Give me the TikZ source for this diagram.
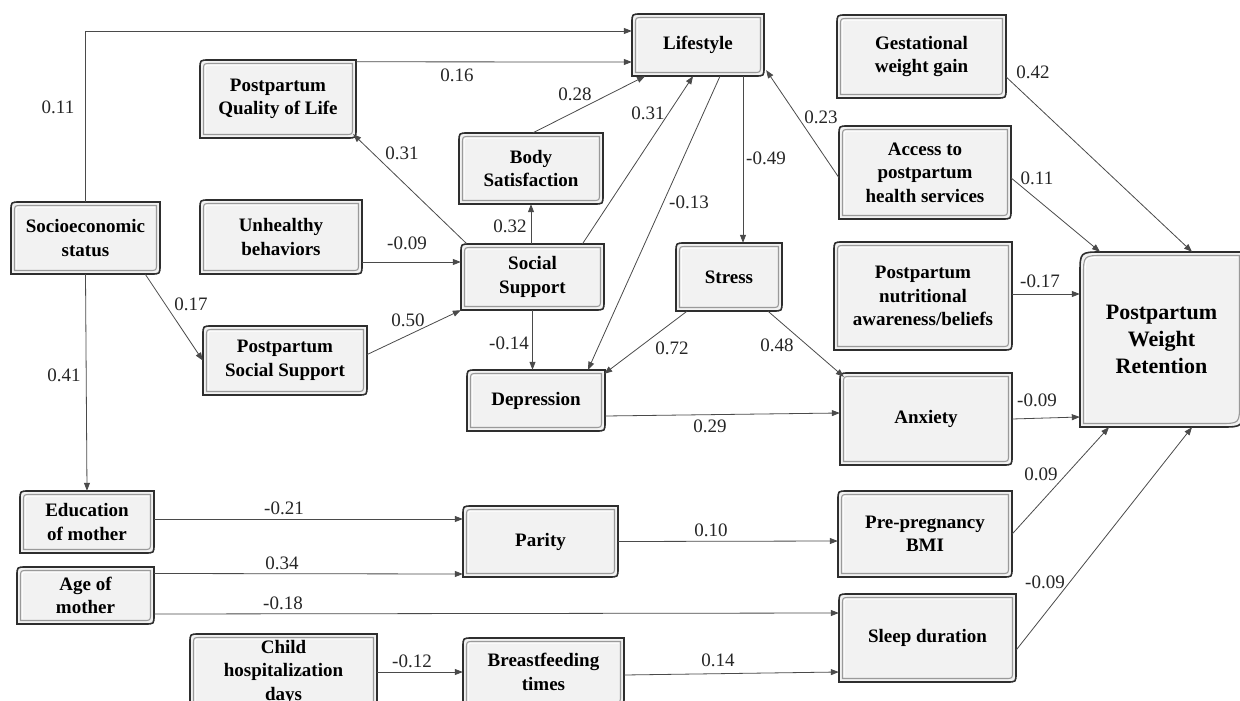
\documentclass[tikz,border=0pt]{standalone}
\usepackage{fontspec}
\setmainfont{LiberationSerif}[Extension=.ttf, UprightFont=*-Regular, BoldFont=*-Bold, ItalicFont=*-Italic, BoldItalicFont=*-BoldItalic]
\usetikzlibrary{arrows.meta}
\definecolor{boxfill}{HTML}{F2F2F2}
\definecolor{boxedge}{HTML}{2E2E2E}
\definecolor{bevel}{HTML}{9A9A9A}
\definecolor{conncol}{HTML}{4A4A4A}
\tikzset{
  boxtext/.style={inner sep=0pt, align=center, font=\rmfamily\bfseries\fontsize{19}{23.5}\selectfont, text=black},
  bigtext/.style={font=\rmfamily\bfseries\fontsize{22}{27}\selectfont},
  lbl/.style={font=\rmfamily\fontsize{19}{22}\selectfont, inner sep=0pt, text=black!85},
  conn/.style={draw=conncol, line width=0.8pt, -{Triangle[length=8pt,width=6pt]}},
  outerline/.style={draw=boxedge, line width=1.6pt, fill=boxfill},
  innerline/.style={draw=bevel, line width=1.1pt},
  hiline/.style={draw=white, line width=0.9pt},
}
% #1 node options, #2 name, #3 x1, #4 y1, #5 x2, #6 y2, #7 radius, #8 text
\newcommand\pbox[8][]{%
  \draw[outerline] (#3,#6) -- (#3,#4+#7) .. controls (#3,#4) .. (#3+#7,#4) -- (#5,#4) -- (#5,#6-#7) .. controls (#5,#6) .. (#5-#7,#6) -- cycle;
  \draw[innerline] (#3+3.5,#6-3.5) -- (#3+3.5,#4+1.5+#7) .. controls (#3+3.5,#4+3.5) .. (#3+1.5+#7,#4+3.5) -- (#5-3.5,#4+3.5) -- (#5-3.5,#6-1.5-#7) .. controls (#5-3.5,#6-3.5) .. (#5-1.5-#7,#6-3.5) -- cycle;
  \draw[hiline] (#3+5.2,#6-5.2) -- (#3+5.2,#4+1+#7) .. controls (#3+5.2,#4+5.2) .. (#3+1+#7,#4+5.2) -- (#5-5.2,#4+5.2);
  \node[boxtext, minimum width={(#5-#3)*1pt}, minimum height={(#6-#4)*1pt}, #1] (#2) at ({(#3+#5)/2},{(#4+#6)/2}) {#8};
}
\begin{document}
\begin{tikzpicture}[x=1pt,y=-1pt]
\useasboundingbox (0,0) rectangle (1240,701);
\clip (0,0) rectangle (1240,701);
\fill[white] (0,0) rectangle (1240,701);

\pbox{life}{632}{14}{764}{76}{9}{Lifestyle}
\pbox{gest}{837}{15}{1006}{98}{9}{Gestational\\weight gain}
\pbox{access}{839}{126}{1011}{219}{9}{Access to\\postpartum\\health services}
\pbox{qol}{200}{60}{356}{138}{9}{Postpartum\\Quality of Life}
\pbox{soc}{11}{202}{160}{274}{9}{Socioeconomic\\status}
\pbox{unh}{200}{200}{362}{274}{9}{Unhealthy\\behaviors}
\pbox{body}{459}{133}{603}{204}{9}{Body\\Satisfaction}
\pbox{ss}{461}{244}{604}{310}{9}{Social\\Support}
\pbox{stress}{676}{243}{782}{311}{9}{Stress}
\pbox{dep}{467}{370}{605}{431}{9}{Depression}
\pbox{pss}{203}{326}{367}{395}{9}{Postpartum\\Social Support}
\pbox{nutr}{834}{242}{1012}{350}{9}{Postpartum\\nutritional\\awareness/beliefs}
\pbox[bigtext]{pwr}{1080}{252}{1243}{427}{22}{Postpartum\\Weight\\Retention}
\pbox{anx}{840}{373}{1012}{465}{9}{Anxiety}
\pbox{edu}{20}{491}{154}{553}{9}{Education\\of mother}
\pbox{age}{17}{567}{154}{624}{9}{Age of\\mother}
\pbox{child}{190}{634}{377}{710}{9}{Child\\hospitalization\\days}
\pbox{parity}{463}{506}{618}{577}{9}{Parity}
\pbox{bf}{463}{638}{624}{706}{9}{Breastfeeding\\times}
\pbox{bmi}{838}{491}{1012}{577}{9}{Pre-pregnancy\\BMI}
\pbox{sleep}{839}{594}{1016}{682}{9}{Sleep duration}

% connectors
\draw[conn] (soc.north) |- ([yshift=14pt]life.west);
\draw[conn] ([yshift=-2pt]qol.north east) -- ([yshift=-17pt]life.west);
\draw[conn] ([xshift=2pt]body.north) -- ([xshift=-53pt]life.south);
\draw[conn] ([xshift=50pt]ss.north) -- ([xshift=-5pt]life.south);
\draw[conn] ([xshift=22pt]life.south) -- ([xshift=52pt]dep.north);
\draw[conn] ([xshift=45pt]life.south) -- ([xshift=14pt]stress.north);
\draw[conn] ([yshift=-5pt]access.west) -- ([xshift=2pt,yshift=6pt]life.south east);
\draw[conn] ([xshift=6pt]ss.north west) -- ([xshift=-3pt,yshift=4pt]qol.south east);
\draw[conn] (ss.north -| body.south) -- (body.south);
\draw[conn] ([yshift=-25pt]unh.east) -- ([yshift=15pt]ss.west);
\draw[conn] ([yshift=6pt]pss.east) -- (ss.south west);
\draw[conn] ([xshift=-15pt]soc.south east) -- (pss.west);
\draw[conn] (soc.south) -- (edu.north);
\draw[conn] (ss.south) -- (ss.south |- dep.north);
\draw[conn] ([xshift=-42pt]stress.south) -- ([xshift=-1pt,yshift=-4pt]dep.north east);
\draw[conn] ([xshift=39pt]stress.south) -- ([xshift=4pt,yshift=-4pt]anx.north west);
\draw[conn] ([yshift=-15.5pt]dep.east) -- ([yshift=6pt]anx.west);
\draw[conn] ([yshift=-20.5pt]gest.east) -- ([xshift=30.5pt]pwr.north);
\draw[conn] ([yshift=-5.5pt]access.east) -- ([xshift=-61.5pt]pwr.north);
\draw[conn] ([yshift=2pt]nutr.east) -- ([yshift=45.5pt]pwr.west);
\draw[conn] (anx.east) -- ([yshift=-77.5pt]pwr.west);
\draw[conn] (bmi.east) -- ([xshift=-52.5pt]pwr.south);
\draw[conn] ([yshift=-12pt]sleep.east) -- ([xshift=30.5pt]pwr.south);
\draw[conn] ([yshift=3pt]edu.east) -- ([yshift=22.5pt]parity.west);
\draw[conn] ([yshift=22pt]age.east) -- ([yshift=-32.5pt]parity.west);
\draw[conn] ([yshift=-18.5pt]age.east) -- ([yshift=25pt]sleep.west);
\draw[conn] (parity.east) -- ([yshift=-7pt]bmi.west);
\draw[conn] (child.east) -- (bf.west);
\draw[conn] ([yshift=-3pt]bf.east) -- ([yshift=-34pt]sleep.west);

% labels
\node[lbl] (l01) at (58,107) {0.11};
\node[lbl] (l02) at (457,75) {0.16};
\node[lbl] (l03) at (575,94) {0.28};
\node[lbl] (l04) at (648,113) {0.31};
\node[lbl] (l05) at (689,202) {-0.13};
\node[lbl] (l06) at (766,158) {-0.49};
\node[lbl] (l07) at (821,117) {0.23};
\node[lbl] (l08) at (402,153) {0.31};
\node[lbl] (l09) at (510,226) {0.32};
\node[lbl] (l10) at (407,243) {-0.09};
\node[lbl] (l11) at (408,320) {0.50};
\node[lbl] (l12) at (191,304) {0.17};
\node[lbl] (l13) at (64,375) {0.41};
\node[lbl] (l14) at (509,343) {-0.14};
\node[lbl] (l15) at (672,348) {0.72};
\node[lbl] (l16) at (777,345) {0.48};
\node[lbl] (l17) at (710,426) {0.29};
\node[lbl] (l18) at (1033,72) {0.42};
\node[lbl] (l19) at (1037,178) {0.11};
\node[lbl] (l20) at (1040,281) {-0.17};
\node[lbl] (l21) at (1037,400) {-0.09};
\node[lbl] (l22) at (1041,474) {0.09};
\node[lbl] (l23) at (1045,582) {-0.09};
\node[lbl] (l24) at (284,508) {-0.21};
\node[lbl] (l25) at (282,563) {0.34};
\node[lbl] (l26) at (283,603) {-0.18};
\node[lbl] (l27) at (711,530) {0.10};
\node[lbl] (l28) at (412,661) {-0.12};
\node[lbl] (l29) at (718,660) {0.14};
\end{tikzpicture}
\end{document}
